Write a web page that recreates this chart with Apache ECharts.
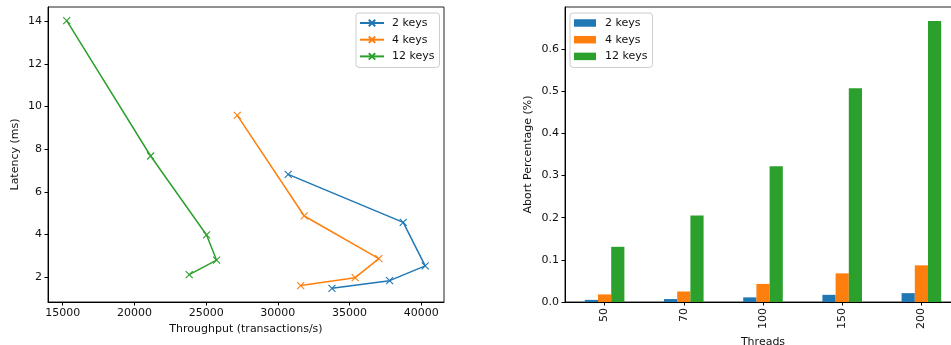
<!DOCTYPE html>
<html>
<head>
<meta charset="utf-8">
<script src="https://cdn.jsdelivr.net/npm/echarts@6/dist/echarts.min.js"></script>
<style>html,body{margin:0;padding:0;background:#fff}#c{width:951px;height:345px}</style>
</head>
<body>
<div id="c"></div>
<script>
// Left panel: throughput vs latency
const throughput2 = [33770, 37790, 40270, 38740, 30720];
const latency2    = [1.48, 1.84, 2.53, 4.57, 6.82];
const throughput4 = [31590, 35390, 37040, 31840, 27170];
const latency4    = [1.61, 1.98, 2.87, 4.87, 9.58];
const throughput12 = [23820, 25730, 25030, 21130, 15280];
const latency12    = [2.12, 2.80, 3.98, 7.68, 14.02];
// Right panel: abort percentage by threads
const threads = ['50', '70', '100', '150', '200'];
const abort2  = [0.005, 0.007, 0.011, 0.017, 0.021];
const abort4  = [0.018, 0.025, 0.043, 0.068, 0.087];
const abort12 = [0.131, 0.205, 0.322, 0.507, 0.667];
const seriesNames = ['2 keys', '4 keys', '12 keys'];

const colors = ['#1f77b4', '#ff7f0e', '#2ca02c'];
const FONT = 'DejaVu Sans';
const FS = 11;
const TXT = '#111';
const xMark = 'path://M0,0L10,10M10,0L0,10';

function pairs(xs, ys) { return xs.map((x, i) => [x, ys[i]]); }

const lineData = [pairs(throughput2, latency2), pairs(throughput4, latency4), pairs(throughput12, latency12)];
const barData = [abort2, abort4, abort12];

const axisCommon = {
  axisLine: { show: true, lineStyle: { color: '#000', width: 1 } },
  axisTick: { show: true, length: 3.5, lineStyle: { color: '#000', width: 1 } },
  splitLine: { show: false },
  nameTextStyle: { fontFamily: FONT, fontSize: FS, color: TXT },
};

const chart = echarts.init(document.getElementById('c'), null, { renderer: 'canvas' });
chart.setOption({
  animation: false,
  backgroundColor: '#fff',
  textStyle: { fontFamily: FONT },
  grid: [
    { left: 48, top: 7, width: 396, height: 295, show: true, borderColor: '#222', borderWidth: 1, backgroundColor: 'transparent', containLabel: false, outerBoundsMode: 'none' },
    { left: 565, top: 7, width: 396, height: 295, show: true, borderColor: '#222', borderWidth: 1, backgroundColor: 'transparent', containLabel: false, outerBoundsMode: 'none' }
  ],
  legend: [
    {
      left: 356, top: 13, orient: 'vertical',
      data: seriesNames,
      itemWidth: 24, itemHeight: 8, itemGap: 4.7,
      padding: [4, 5, 5, 3],
      backgroundColor: '#fff', borderColor: '#ccc', borderWidth: 1, borderRadius: 3,
      textStyle: { fontFamily: FONT, fontSize: FS, color: TXT, lineHeight: 12, padding: [0, 0, 0, 3] }
    },
    {
      left: 570, top: 13, orient: 'vertical',
      data: seriesNames.map(n => ({ name: 'bar:' + n, icon: 'rect' })),
      formatter: n => n.replace('bar:', ''),
      itemWidth: 22, itemHeight: 7.5, itemGap: 4.7,
      padding: [4, 5, 5, 4],
      backgroundColor: '#fff', borderColor: '#ccc', borderWidth: 1, borderRadius: 3,
      textStyle: { fontFamily: FONT, fontSize: FS, color: TXT, lineHeight: 12, padding: [0, 0, 0, 4] }
    }
  ],
  xAxis: [
    Object.assign({}, axisCommon, {
      type: 'value', gridIndex: 0, min: 13976, max: 41582, splitNumber: 5,
      name: 'Throughput (transactions/s)', nameLocation: 'middle', nameGap: 20,
      axisLabel: { fontFamily: FONT, fontSize: FS, color: TXT, margin: 6, showMinLabel: false, showMaxLabel: false, formatter: v => String(v) }
    }),
    Object.assign({}, axisCommon, {
      type: 'category', gridIndex: 1, data: threads,
      axisTick: { show: true, alignWithLabel: true, length: 3.5, lineStyle: { color: '#000', width: 1 } },
      name: 'Threads', nameLocation: 'middle', nameGap: 30,
      axisLabel: { fontFamily: FONT, fontSize: FS, color: TXT, margin: 6, rotate: 90 }
    })
  ],
  yAxis: [
    Object.assign({}, axisCommon, {
      type: 'value', gridIndex: 0, min: 0.84, max: 14.66, splitNumber: 7,
      name: 'Latency (ms)', nameLocation: 'middle', nameGap: 27,
      axisLabel: { fontFamily: FONT, fontSize: FS, color: TXT, margin: 6, showMinLabel: false, showMaxLabel: false }
    }),
    Object.assign({}, axisCommon, {
      type: 'value', gridIndex: 1, min: 0, max: 0.7, interval: 0.1,
      name: 'Abort Percentage (%)', nameLocation: 'middle', nameGap: 31,
      axisLabel: { fontFamily: FONT, fontSize: FS, color: TXT, margin: 6, showMaxLabel: false, formatter: v => v.toFixed(1) }
    })
  ],
  series: [
    ...seriesNames.map((n, i) => ({
      name: n, type: 'line', xAxisIndex: 0, yAxisIndex: 0,
      data: lineData[i],
      symbol: xMark, symbolSize: 7, showAllSymbol: true,
      lineStyle: { color: colors[i], width: 1.5 },
      itemStyle: { color: colors[i], borderColor: colors[i], borderWidth: 1.1 },
      z: 3 + i
    })),
    ...seriesNames.map((n, i) => ({
      name: 'bar:' + n, type: 'bar', xAxisIndex: 1, yAxisIndex: 1,
      data: barData[i],
      barWidth: 13.2, barGap: '0%',
      itemStyle: { color: colors[i] }
    }))
  ]
});
</script>
</body>
</html>
